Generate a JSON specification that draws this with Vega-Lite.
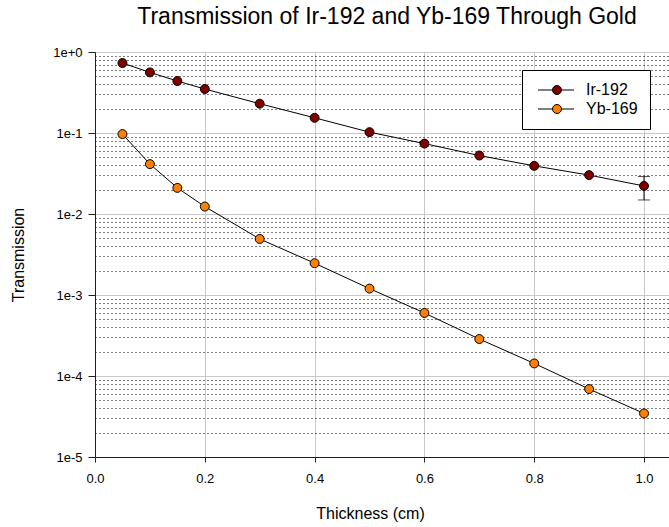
{
  "$schema": "https://vega.github.io/schema/vega-lite/v6.json",
  "autosize": "none",
  "width": 574,
  "height": 405,
  "padding": {"left": 95, "top": 52, "right": 0, "bottom": 70},
  "background": "white",
  "title": {
    "text": "Transmission of Ir-192 and Yb-169 Through Gold",
    "font": "Liberation Sans",
    "fontSize": 23,
    "fontWeight": "normal",
    "color": "#000000",
    "anchor": "middle",
    "dx": 5,
    "offset": 17
  },
  "config": {
    "view": {"stroke": "#404040", "strokeWidth": 1},
    "axis": {
      "labelFont": "Liberation Sans",
      "titleFont": "Liberation Sans",
      "labelFontSize": 13,
      "titleFontSize": 16,
      "titleFontWeight": "normal",
      "labelColor": "#000000",
      "titleColor": "#000000",
      "domainColor": "#202020",
      "tickColor": "#202020"
    }
  },
  "data": {
    "values": [
      {"thickness": 0.05, "transmission": 0.731, "isotope": "Ir-192"},
      {"thickness": 0.10, "transmission": 0.56, "isotope": "Ir-192"},
      {"thickness": 0.15, "transmission": 0.438, "isotope": "Ir-192"},
      {"thickness": 0.20, "transmission": 0.349, "isotope": "Ir-192"},
      {"thickness": 0.30, "transmission": 0.23, "isotope": "Ir-192"},
      {"thickness": 0.40, "transmission": 0.154, "isotope": "Ir-192"},
      {"thickness": 0.50, "transmission": 0.1025, "isotope": "Ir-192"},
      {"thickness": 0.60, "transmission": 0.074, "isotope": "Ir-192"},
      {"thickness": 0.70, "transmission": 0.0527, "isotope": "Ir-192"},
      {"thickness": 0.80, "transmission": 0.0393, "isotope": "Ir-192"},
      {"thickness": 0.90, "transmission": 0.0302, "isotope": "Ir-192"},
      {"thickness": 1.00, "transmission": 0.0222, "isotope": "Ir-192"},
      {"thickness": 0.05, "transmission": 0.097, "isotope": "Yb-169"},
      {"thickness": 0.10, "transmission": 0.0413, "isotope": "Yb-169"},
      {"thickness": 0.15, "transmission": 0.021, "isotope": "Yb-169"},
      {"thickness": 0.20, "transmission": 0.01236, "isotope": "Yb-169"},
      {"thickness": 0.30, "transmission": 0.00492, "isotope": "Yb-169"},
      {"thickness": 0.40, "transmission": 0.00247, "isotope": "Yb-169"},
      {"thickness": 0.50, "transmission": 0.0012, "isotope": "Yb-169"},
      {"thickness": 0.60, "transmission": 0.0006, "isotope": "Yb-169"},
      {"thickness": 0.70, "transmission": 0.000286, "isotope": "Yb-169"},
      {"thickness": 0.80, "transmission": 0.000143, "isotope": "Yb-169"},
      {"thickness": 0.90, "transmission": 0.000069, "isotope": "Yb-169"},
      {"thickness": 1.00, "transmission": 0.0000345, "isotope": "Yb-169"}
    ]
  },
  "layer": [
    {
      "mark": {"type": "line", "color": "#000000", "strokeWidth": 1},
      "encoding": {
        "x": {
          "field": "thickness",
          "type": "quantitative",
          "scale": {"domain": [0, 1.0455], "nice": false},
          "axis": {
            "title": "Thickness (cm)",
            "titleX": 275,
            "values": [0, 0.2, 0.4, 0.6, 0.8, 1.0],
            "format": ".1f",
            "labelFlush": false,
            "grid": true,
            "gridColor": "#c8c8c8",
            "gridWidth": 1,
            "tickSize": 5,
            "labelPadding": 10,
            "titlePadding": 20
          }
        },
        "y": {
          "field": "transmission",
          "type": "quantitative",
          "scale": {"type": "log", "domain": [0.00001, 1], "nice": false},
          "axis": {
            "title": "Transmission",
            "values": [0.00001, 0.00002, 0.00003, 0.00004, 0.00005, 0.00006, 0.00007, 0.00008, 0.00009,
                       0.0001, 0.0002, 0.0003, 0.0004, 0.0005, 0.0006, 0.0007, 0.0008, 0.0009,
                       0.001, 0.002, 0.003, 0.004, 0.005, 0.006, 0.007, 0.008, 0.009,
                       0.01, 0.02, 0.03, 0.04, 0.05, 0.06, 0.07, 0.08, 0.09,
                       0.1, 0.2, 0.3, 0.4, 0.5, 0.6, 0.7, 0.8, 0.9, 1],
            "labelExpr": "abs(log(datum.value)/LN10 - round(log(datum.value)/LN10)) < 0.001 ? (datum.value >= 0.999 ? '1e+0' : '1e' + round(log(datum.value)/LN10)) : ''",
            "grid": true,
            "gridColor": {"condition": {"test": "abs(log(datum.value)/LN10 - round(log(datum.value)/LN10)) < 0.001", "value": "#c8c8c8"}, "value": "#000000"},
            "gridDash": {"condition": {"test": "abs(log(datum.value)/LN10 - round(log(datum.value)/LN10)) < 0.001", "value": []}, "value": [1, 3]},
            "tickOpacity": {"condition": {"test": "abs(log(datum.value)/LN10 - round(log(datum.value)/LN10)) < 0.001", "value": 1}, "value": 0},
            "tickSize": 7,
            "labelPadding": 6,
            "labelFlush": false,
            "labelOverlap": false,
            "titlePadding": 26
          }
        },
        "detail": {"field": "isotope"}
      }
    },
    {
      "data": {"values": [{"thickness": 1.0, "lo": 0.0149, "hi": 0.029}]},
      "mark": {"type": "rule", "color": "#000000", "strokeWidth": 1},
      "encoding": {
        "x": {"field": "thickness", "type": "quantitative"},
        "y": {"field": "lo", "type": "quantitative"},
        "y2": {"field": "hi"}
      }
    },
    {
      "data": {"values": [{"thickness": 1.0, "v": 0.0149}, {"thickness": 1.0, "v": 0.029}]},
      "mark": {"type": "tick", "orient": "horizontal", "color": "#000000", "size": 12, "thickness": 1},
      "encoding": {
        "x": {"field": "thickness", "type": "quantitative"},
        "y": {"field": "v", "type": "quantitative"}
      }
    },
    {
      "mark": {"type": "point", "filled": true, "stroke": "#000000", "strokeWidth": 1, "size": 80, "opacity": 1},
      "encoding": {
        "x": {"field": "thickness", "type": "quantitative"},
        "y": {"field": "transmission", "type": "quantitative"},
        "fill": {
          "field": "isotope",
          "type": "nominal",
          "scale": {"domain": ["Ir-192", "Yb-169"], "range": ["#800000", "#ff8000"]},
          "legend": {
            "title": null,
            "orient": "none",
            "legendX": 427,
            "legendY": 18,
            "strokeColor": "#000000",
            "fillColor": "#ffffff",
            "padding": 12,
            "labelFont": "Liberation Sans",
            "labelFontSize": 16,
            "labelColor": "#000000",
            "labelOffset": 36,
            "symbolType": "M-0.8,0H2.1M3.9,0H6.4M2.1,0A0.9,0.9 0 1,0 3.9,0A0.9,0.9 0 1,0 2.1,0Z",
            "symbolSize": 100,
            "symbolStrokeColor": "#000000",
            "symbolStrokeWidth": 1,
            "symbolOpacity": 1,
            "rowPadding": 3
          }
        }
      }
    }
  ]
}
